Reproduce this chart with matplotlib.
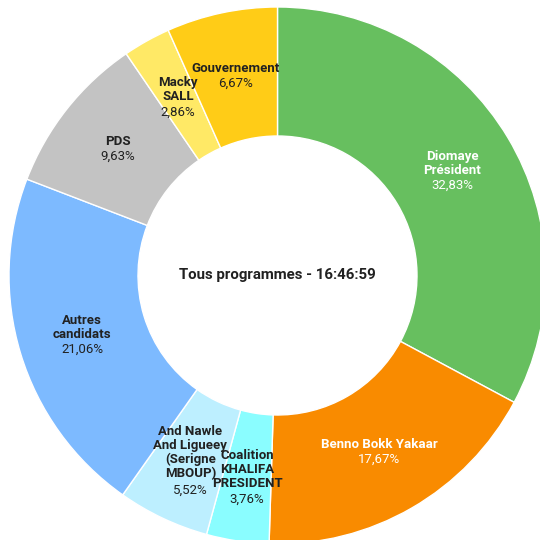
import numpy as np
import matplotlib.pyplot as plt

# ---------- Data ----------
names = ["Diomaye\nPrésident", "Benno Bokk Yakaar", "Coalition\nKHALIFA\nPRESIDENT",
         "And Nawle\nAnd Ligueey\n(Serigne\nMBOUP)", "Autres\ncandidats", "PDS",
         "Macky\nSALL", "Gouvernement"]
shares = [32.83, 17.67, 3.76, 5.52, 21.06, 9.63, 2.86, 6.67]
colors = ["#67bf5f", "#f98b00", "#8afdff", "#bdefff", "#7dbaff", "#c3c3c3",
          "#ffe966", "#ffcc17"]
text_colors = ["white", "white", "#212121", "#212121", "#212121", "#212121",
               "#212121", "#212121"]
center_title = "Tous programmes - 16:46:59"

plt.rcParams['font.family'] = ['Roboto', 'DejaVu Sans']

# ---------- Figure (pixel coordinates) ----------
fig = plt.figure(figsize=(5.4, 5.4), dpi=100)
ax = fig.add_axes([0, 0, 1, 1])
ax.set_aspect('equal')
ax.axis('off')

cx, cy = 277.5, 540 - 275.5
r_out, r_in = 268.5, 139.5

wedges, _ = ax.pie(shares, colors=colors, startangle=90, counterclock=False,
                   radius=r_out, center=(cx, cy),
                   wedgeprops=dict(width=r_out - r_in, edgecolor='white', linewidth=1))
ax.set_xlim(0, 540)
ax.set_ylim(0, 540)

# ---------- Labels ----------
r_mid = (r_out + r_in) / 2
line_h = 10.8  # points
for w, name, v, tc in zip(wedges, names, shares, text_colors):
    ang = np.deg2rad((w.theta1 + w.theta2) / 2)
    x = cx + r_mid * np.cos(ang)
    y = cy + r_mid * np.sin(ang)
    n = name.count("\n") + 1
    ax.annotate(name, (x, y), xytext=(0, line_h / 2), textcoords='offset points',
                ha='center', va='center', fontsize=9.5, fontweight='bold',
                color=tc, linespacing=1.1)
    ax.annotate(f"{v:.2f}".replace('.', ',') + "%", (x, y),
                xytext=(0, -n * line_h / 2), textcoords='offset points',
                ha='center', va='center', fontsize=9.5, color=tc)

ax.text(cx, cy, center_title, ha='center', va='center', fontsize=10.8,
        fontweight='bold', color='#212121')

fig.savefig("out.png", dpi=100)
